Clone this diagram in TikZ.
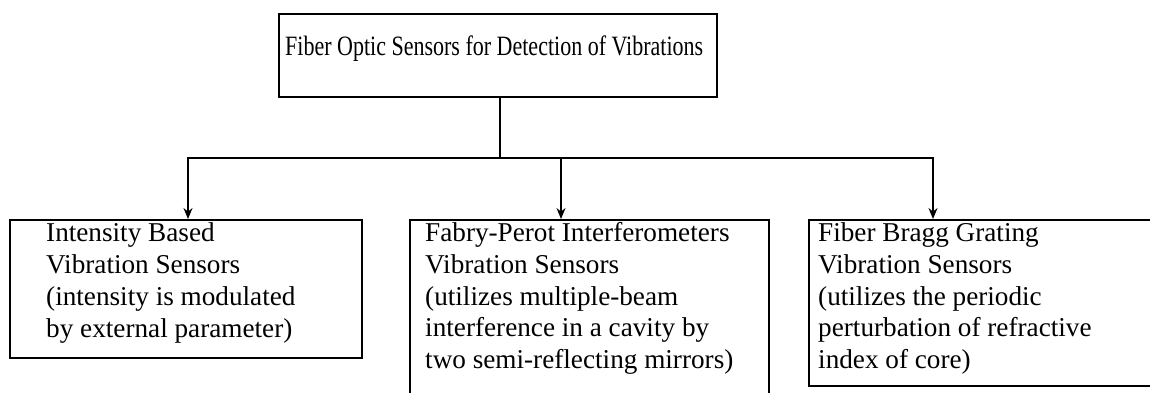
\documentclass[tikz,border=0pt]{standalone}
\usepackage{fontspec}
\setmainfont{Liberation Serif}
\usetikzlibrary{arrows.meta}
\tikzset{
  box/.style={draw=black, line width=1.5pt, rectangle, anchor=north west, inner sep=0pt, fill=none},
  txt/.style={anchor=base west, inner sep=0pt, align=left, font=\fontsize{27.2}{31.7}\selectfont},
  toptext/.style={anchor=base west, inner sep=0pt, font=\fontsize{28}{32}\selectfont},
  conn/.style={draw=black, line width=1.5pt},
  arr/.style={conn, -{Stealth[length=11pt,width=9pt]}}
}
\begin{document}
\begin{tikzpicture}[x=1pt,y=-1pt]
\useasboundingbox (0,0) rectangle (1150,392);
\clip (0,0) rectangle (1150,392);
\node[box, minimum width=438pt, minimum height=83pt] (top) at (278,13) {};
\node[toptext] (toptxt) at (285,55) {\scalebox{0.786}[1]{Fiber Optic Sensors for Detection of Vibrations}};
\node[box, minimum width=352pt, minimum height=138pt] (l) at (9,219) {};
\node[box, minimum width=359pt, minimum height=200pt] (m) at (409,219) {};
\node[box, minimum width=400pt, minimum height=166pt] (r) at (808,219) {};
\node[txt] (ltxt) at (46,337) {Intensity Based\\Vibration Sensors\\(intensity is modulated\\by external parameter)};
\node[txt] (mtxt) at (425,368.5) {Fabry-Perot Interferometers\\Vibration Sensors\\(utilizes multiple-beam\\interference in a cavity by\\two semi-reflecting mirrors)};
\node[txt] (rtxt) at (818,368.5) {Fiber Bragg Grating\\Vibration Sensors\\(utilizes the periodic\\perturbation of refractive\\index of core)};
\coordinate (j) at (500,158);
\draw[conn] (top.south -| j) -- (j);
\draw[arr] (j) -| ([xshift=179pt]l.north west);
\draw[arr] (j) -| ([xshift=152pt]m.north west);
\draw[arr] (j) -| ([xshift=125pt]r.north west);
\end{tikzpicture}
\end{document}
